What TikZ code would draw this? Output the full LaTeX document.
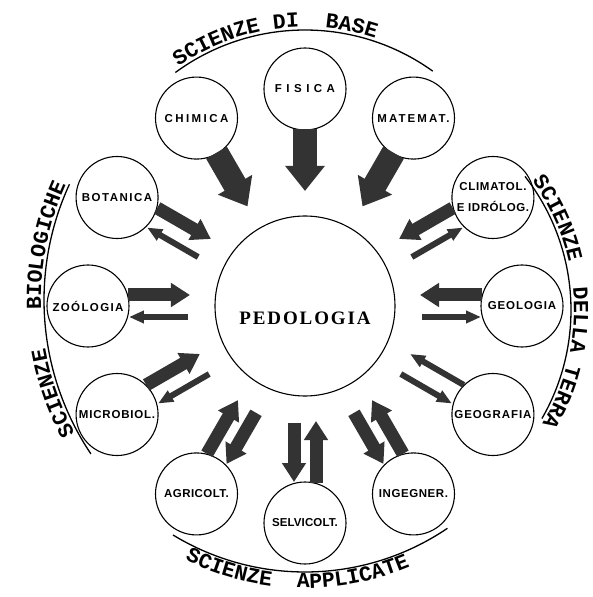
\documentclass[tikz,border=0pt]{standalone}
\usepackage{fontspec}
\usetikzlibrary{arrows.meta,decorations.text}
\newfontfamily\labelfont{Liberation Sans}
\newfontfamily\pedofont{Liberation Serif}[LetterSpace=10]
\newfontfamily\arcfont{Liberation Mono}

\begin{document}
\begin{tikzpicture}[x=1pt,y=1pt,
    disc/.style={circle,draw,line width=1.1pt,minimum size=82pt,inner sep=0pt,align=center,
      font=\labelfont\bfseries\fontsize{11.5}{13}\selectfont},
    arcline/.style={line width=1.3pt},
    fatarr/.style={draw=black!80,line width=24pt,-{Triangle[length=25pt,width=38pt]}},
    midarr/.style={draw=black!80,line width=13pt,-{Triangle[length=19pt,width=23pt]}},
    slimarr/.style={draw=black!80,line width=6pt,-{Triangle[length=15pt,width=12pt]}},
    inarr/.style={shorten <=40pt,shorten >=115pt},
    outarr/.style={shorten <=117pt,shorten >=41pt},
    arctext/.style={decorate,decoration={text along path,
      text={|\arcfont\bfseries\fontsize{21.5}{22}\selectfont|#1}}}]
\useasboundingbox (-305,-291) rectangle (288,306);
\node[circle,draw,line width=1.1pt,minimum size=180pt] (pedo) at (0,0) {};
\node[font=\pedofont\bfseries\fontsize{19}{19}\selectfont] (pedolbl) at (0,-12) {PEDOLOGIA};
\foreach \n/\a/\ls/\t in {fis/90/39/FISICA, chim/120/21/CHIMICA, mat/60/18/MATEMAT.,
    clim/30/6/{CLIMATOL.\\[8pt]\addfontfeature{LetterSpace=5}E IDRÓLOG.}, geol/0/8/GEOLOGIA,
    geog/-30/8/GEOGRAFIA, bota/150/13/BOTANICA, zool/180/12/ZOÓLOGIA, micr/210/7/MICROBIOL.,
    agri/240/4/AGRICOLT., selv/270/1/SELVICOLT., inge/300/5/INGEGNER.}
  \node[disc] (\n) at (\a:217) {\addfontfeature{LetterSpace=\ls}\t};
\foreach \n in {fis,chim,mat}
  \draw[fatarr,inarr] (\n.center) -- (pedo.center);
\foreach \n/\p/\i/\o in {clim/120/midarr/slimarr, geol/90/midarr/slimarr, geog/60/slimarr/slimarr,
    bota/60/midarr/slimarr, zool/90/midarr/slimarr, micr/120/midarr/slimarr,
    agri/150/midarr/midarr, selv/0/midarr/midarr, inge/30/midarr/midarr} {
  \draw[\i,inarr] ([shift={(\p:11)}]\n.center) -- ([shift={(\p:11)}]pedo.center);
  \draw[\o,outarr] ([shift={(\p+180:11)}]pedo.center) -- ([shift={(\p+180:11)}]\n.center);
}
\coordinate (topc) at (0,57);
\coordinate (rgtc) at (49,-4);
\coordinate (lftc) at (15,6);
\coordinate (botc) at (0,-12);
\draw[arcline,shift={(topc)}] (126.3:219) arc[start angle=126.3,end angle=54.3,radius=219];
\path[arctext={SCIENZE~DI~~BASE},shift={(topc)}] (124.8:222) arc[start angle=124.8,end angle=40,radius=222];
\draw[arcline,shift={(rgtc)}] (38:217) arc[start angle=38,end angle=-30,radius=217];
\path[arctext={SCIENZE~~DELLA~TERRA},shift={(rgtc)}] (36:220) arc[start angle=36,end angle=-50,radius=220];
\draw[arcline,shift={(lftc)}] (155.2:276) arc[start angle=155.2,end angle=213.9,radius=276];
\path[arctext={SCIENZE~~~BIOLOGICHE},shift={(lftc)}] (208.5:279) arc[start angle=208.5,end angle=140,radius=279];
\draw[arcline,shift={(botc)}] (238.7:254) arc[start angle=238.7,end angle=304.1,radius=254];
\path[arctext={SCIENZE~~APPLICATE},shift={(botc)}] (243.6:270) arc[start angle=243.6,end angle=310,radius=270];
\end{tikzpicture}
\end{document}
